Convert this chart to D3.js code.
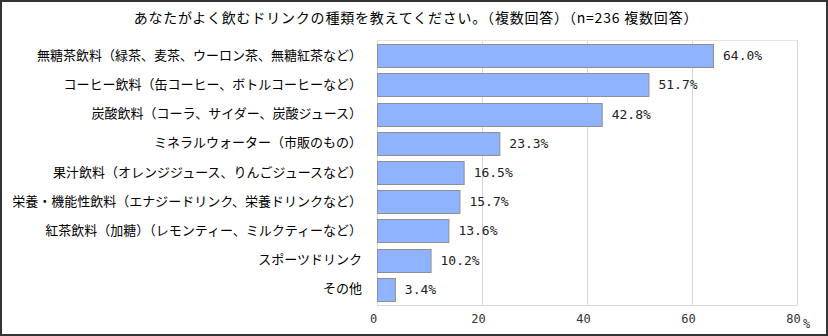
<!DOCTYPE html>
<html>
<head>
<meta charset="utf-8">
<script src="https://cdn.jsdelivr.net/npm/d3@7"></script>
<style>
  html, body { margin: 0; padding: 0; background: #fff; }
  svg { display: block; }
</style>
</head>
<body>
<svg id="chart" width="828" height="336"></svg>
<script>
const title = "あなたがよく飲むドリンクの種類を教えてください。（複数回答）（n=236 複数回答）";
const categories = [
  "無糖茶飲料（緑茶、麦茶、ウーロン茶、無糖紅茶など）",
  "コーヒー飲料（缶コーヒー、ボトルコーヒーなど）",
  "炭酸飲料（コーラ、サイダー、炭酸ジュース）",
  "ミネラルウォーター（市販のもの）",
  "果汁飲料（オレンジジュース、りんごジュースなど）",
  "栄養・機能性飲料（エナジードリンク、栄養ドリンクなど）",
  "紅茶飲料（加糖）（レモンティー、ミルクティーなど）",
  "スポーツドリンク",
  "その他"
];
const values = [64.0, 51.7, 42.8, 23.3, 16.5, 15.7, 13.6, 10.2, 3.4];
const xTicks = [0, 20, 40, 60, 80];
const unitLabel = "%";

(function () {
const svg = d3.select("#chart");
const W = 828, H = 336;
const pLeft = 377, pRight = 797, pTop = 40, pBottom = 305;
const jp = "'Noto Sans CJK JP', 'Noto Sans', sans-serif";
const mono = "'DejaVu Sans Mono', monospace";

// outer frame
svg.append("rect").attr("x", 1).attr("y", 1).attr("width", W - 2).attr("height", H - 2)
  .attr("fill", "#fff").attr("stroke", "#333").attr("stroke-width", 2);

// title
svg.append("text").attr("x", 416).attr("y", 23).attr("text-anchor", "middle")
  .attr("font-family", jp).attr("font-size", 14).attr("letter-spacing", 0.8)
  .attr("fill", "#000").text(title);

const x = d3.scaleLinear().domain([0, 80]).range([pLeft, pRight]);
const y = d3.scaleBand().domain(categories).range([pTop + 1, pBottom - 1]).paddingInner(0.21).paddingOuter(0.11);

// gridlines
svg.append("g").selectAll("line").data(xTicks).join("line")
  .attr("x1", d => x(d) + 0.5).attr("x2", d => x(d) + 0.5)
  .attr("y1", pTop).attr("y2", pBottom)
  .attr("stroke", "#d9d9d9").attr("stroke-width", 1);
svg.append("line").attr("x1", pLeft).attr("x2", pRight).attr("y1", pTop + 0.5).attr("y2", pTop + 0.5)
  .attr("stroke", "#e4e4e4");
svg.append("line").attr("x1", pLeft).attr("x2", pRight).attr("y1", pBottom + 0.5).attr("y2", pBottom + 0.5)
  .attr("stroke", "#d9d9d9");

// bars
svg.append("g").selectAll("rect").data(values).join("rect")
  .attr("x", x(0) + 0.5)
  .attr("y", (d, i) => Math.round(y(categories[i])) + 0.5)
  .attr("width", d => x(d) - x(0))
  .attr("height", Math.round(y.bandwidth()))
  .attr("fill", "#8fb3ff").attr("stroke", "#8f8f8f").attr("stroke-width", 1);

// value labels
svg.append("g").selectAll("text").data(values).join("text")
  .attr("x", d => x(d) + 10)
  .attr("y", (d, i) => y(categories[i]) + y.bandwidth() / 2)
  .attr("dy", "0.35em")
  .attr("font-family", mono).attr("font-size", 13)
  .attr("fill", "#222")
  .text(d => d.toFixed(1) + "%");

// category labels
const yAxis = d3.axisLeft(y).tickSize(0).tickPadding(15);
const ga = svg.append("g").attr("transform", `translate(${pLeft},0)`).call(yAxis);
ga.select(".domain").remove();
ga.selectAll("text").attr("font-family", jp).attr("font-size", 13).attr("fill", "#000");

// x axis labels
const xAxis = d3.axisBottom(x).tickValues(xTicks).tickSize(0).tickPadding(9).tickFormat(d3.format("d"));
const gx = svg.append("g").attr("transform", `translate(-4,${pBottom})`).call(xAxis);
gx.select(".domain").remove();
gx.selectAll("text").attr("font-family", mono).attr("font-size", 12).attr("fill", "#333");

svg.append("text").attr("x", 803).attr("y", 328)
  .attr("font-family", mono).attr("font-size", 12).attr("fill", "#333").text(unitLabel);
})();
</script>
</body>
</html>
